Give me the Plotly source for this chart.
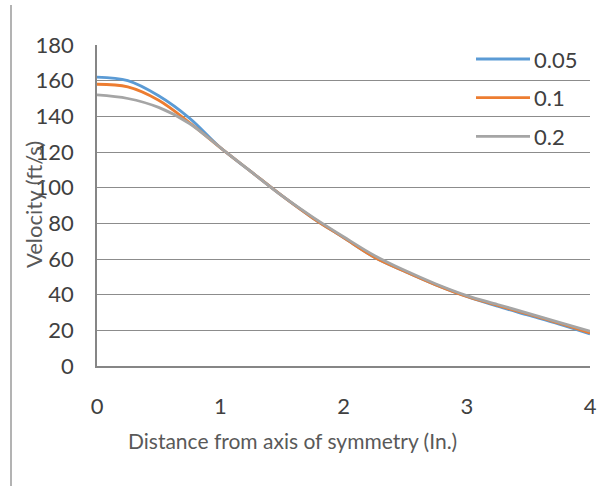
import plotly.graph_objects as go

x_vals = [0, 0.25, 0.5, 0.75, 1, 1.25, 1.5, 1.75, 2, 2.25, 2.5, 2.75, 3, 3.25, 3.5, 3.75, 4]
v_005 = [162, 160, 151.5, 139, 122.5, 109, 95.5, 83, 72, 61, 53, 45.5, 39, 33.5, 28.5, 23.5, 18]
v_01 = [158, 156.5, 149, 136.5, 122.5, 109, 95.5, 83, 72, 61, 53, 45.5, 39, 34, 29, 24, 18.5]
v_02 = [152, 150, 145, 136, 122.5, 109, 95.5, 83.5, 72.5, 62, 53.5, 46, 39.5, 34.5, 29.5, 24.5, 19.5]
series_names = ["0.05", "0.1", "0.2"]
colors = ["#5B9BD5", "#ED7D31", "#A5A5A5"]
x_title = "Distance from axis of symmetry (In.)"
y_title = "Velocity (ft/s)"

FONT = "Lato, 'Open Sans', sans-serif"
fig = go.Figure()
for name, vals, c in zip(series_names, [v_005, v_01, v_02], colors):
    fig.add_trace(go.Scatter(x=x_vals, y=vals, name=name, mode="lines", showlegend=False,
                             line=dict(color=c, width=2.8, shape="spline", smoothing=1.0)))

# plot area in pixels: x 97..590, y 45..366
L, R, T, B = 97, 590, 45, 366
def px(xp):
    return (xp - L) / (R - L)
def py(yp):
    return (B - yp) / (B - T)

# custom legend (no background, gridlines show through)
for i, (name, c) in enumerate(zip(series_names, colors)):
    yc = 59 + 38.7 * i
    fig.add_shape(type="line", xref="paper", yref="paper",
                  x0=px(476), x1=px(530), y0=py(yc), y1=py(yc),
                  line=dict(color=c, width=2.8))
    fig.add_annotation(text=name, xref="paper", yref="paper", x=px(532), y=py(yc),
                       xanchor="left", yanchor="middle", showarrow=False,
                       font=dict(size=22, color="#404040", family=FONT))

fig.update_layout(
    width=613, height=486,
    margin=dict(l=L, r=613 - R, t=T, b=486 - B),
    plot_bgcolor="white", paper_bgcolor="white",
    font=dict(family=FONT, color="#404040", size=22),
    showlegend=False,
)
fig.update_xaxes(range=[0, 4], dtick=1, showgrid=False, zeroline=False,
                 showline=True, linecolor="#868686", linewidth=1.5,
                 ticks="", ticklabelstandoff=20,
                 tickfont=dict(size=22, color="#404040"))
fig.update_yaxes(range=[0, 180], dtick=20, showgrid=True, gridcolor="#8c8c8c", gridwidth=1.2,
                 zeroline=False, showline=True, linecolor="#868686", linewidth=1.5,
                 ticks="", ticklabelstandoff=17,
                 tickfont=dict(size=22, color="#404040"))
fig.add_annotation(text=x_title, xref="paper", yref="paper",
                   x=px(292), y=py(440), xanchor="center", yanchor="middle", showarrow=False,
                   font=dict(size=21, color="#595959"))
fig.add_annotation(text=y_title, textangle=-90, xref="paper", yref="paper",
                   x=px(33), y=py(205), xanchor="center", yanchor="middle", showarrow=False,
                   font=dict(size=22, color="#595959"))
fig.add_shape(type="line", xref="paper", yref="paper", x0=px(11), x1=px(11), y0=py(486), y1=py(5),
              line=dict(color="#9a9a9a", width=1.5))
fig.write_html("out.html")
